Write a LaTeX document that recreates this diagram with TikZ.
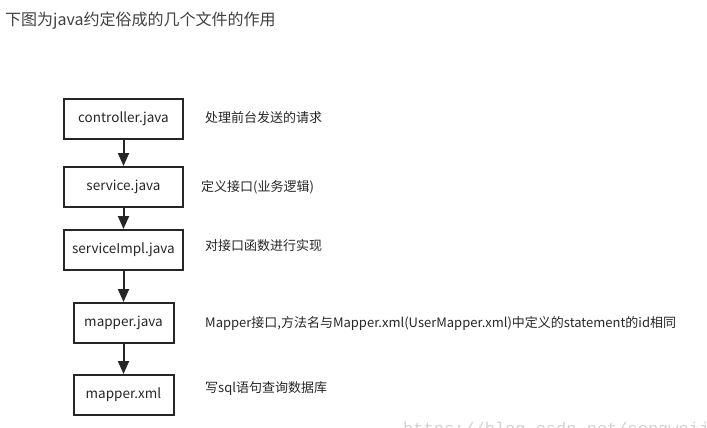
\documentclass[tikz,border=0pt]{standalone}
\usepackage{fontspec}
\setmainfont{Noto Sans CJK SC}
\newfontfamily\wmfont{Liberation Mono}
\usetikzlibrary{arrows.meta, positioning}

\begin{document}
\begin{tikzpicture}[x=1pt, y=-1pt, >={Triangle[length=13pt, width=11pt]},
    box/.style={draw=black!85, line width=2pt, minimum height=40pt, font=\fontsize{13.5}{15}\selectfont, text=black!85},
    note/.style={anchor=west, inner sep=0pt, font=\fontsize{13}{15}\selectfont, text=black!85}]
        \useasboundingbox (0,0) rectangle (707,428);
        \clip (0,0) rectangle (707,428);
        % Title
        \node [anchor=west, inner sep=0pt, font=\fontsize{16}{18}\selectfont, text=black!75] (title) at (5,21) {下图为java约定俗成的几个文件的作用};
        
        % Files
        \node [box, minimum width=119pt] (ctrl) at (123.5,119) {controller.java};
        \node [box, minimum width=119pt] (svc) at (123.5,187) {service.java};
        \node [box, minimum width=119pt] (impl) at (123.5,250) {serviceImpl.java};
        \node [box, minimum width=100pt] (mapj) at (123.5,323) {mapper.java};
        \node [box, minimum width=100pt] (mapx) at (123.5,395) {mapper.xml};
        
        % Arrows
        \draw [->, line width=2pt, black!85] (ctrl) -- (svc);
        \draw [->, line width=2pt, black!85] (svc) -- (impl);
        \draw [->, line width=2pt, black!85] (impl) -- (mapj);
        \draw [->, line width=2pt, black!85] (mapj) -- (mapx);
        
        % Notes
        \node [note] (n1) at (205,118) {处理前台发送的请求};
        \node [note] (n2) at (201,187) {定义接口(业务逻辑)};
        \node [note] (n3) at (205,246) {对接口函数进行实现};
        \node [note] (n4) at (205,323) {Mapper接口,方法名与Mapper.xml(UserMapper.xml)中定义的statement的id相同};
        \node [note] (n5) at (205,389) {写sql语句查询数据库};
        
        % Watermark
        \node [anchor=base west, inner sep=0pt, font=\wmfont\fontsize{17}{19}\selectfont, text=black!18] (wm) at (403,434) {https://blog.csdn.net/congweijian};
    \end{tikzpicture}
\end{document}
